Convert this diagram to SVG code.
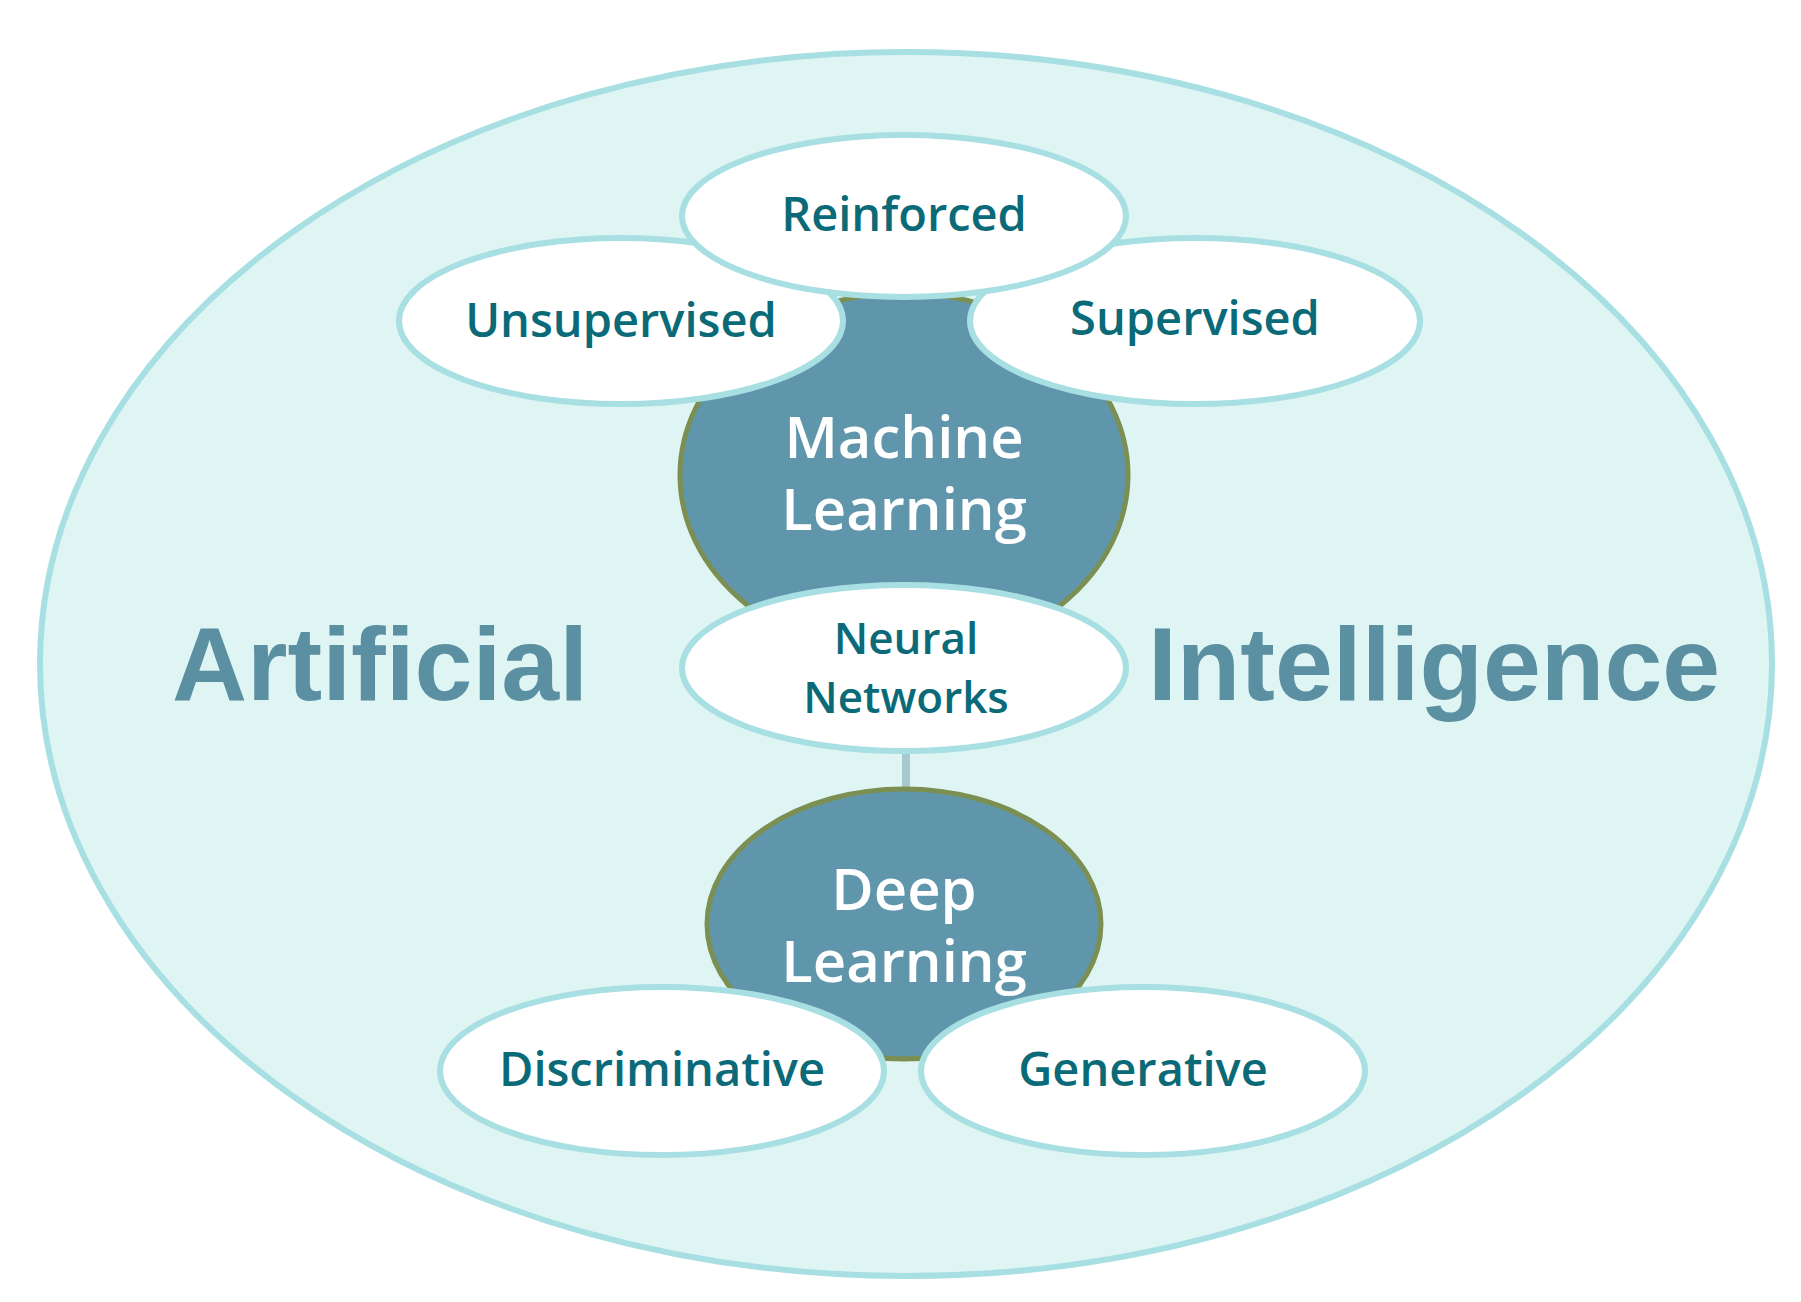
<svg xmlns="http://www.w3.org/2000/svg" width="1801" height="1302" viewBox="0 0 1801 1302">
<style>
.w{fill:#fff;stroke:#a8dfe3;stroke-width:6}
.d{fill:#6096ab;stroke:#7c8f52;stroke-width:5}
.t{font-family:"Open Sans","Liberation Sans",sans-serif;font-weight:600;fill:#0a6a78;text-anchor:middle;font-size:47px}
.n{font-size:44px}
.wt{font-family:"Open Sans","Liberation Sans",sans-serif;font-weight:600;fill:#fff;text-anchor:middle;font-size:58px}
.big{font-family:"Liberation Sans",Arial,sans-serif;fill:#5b8fa2;font-weight:bold;font-size:104px;text-anchor:middle}
</style>
<rect width="1801" height="1302" fill="#fff"/>
<ellipse cx="906" cy="664" rx="866" ry="612" fill="#dff5f3" stroke="#a8dfe3" stroke-width="6"/>
<text class="big" x="380" y="700">Artificial</text>
<text class="big" x="1434" y="700">Intelligence</text>
<g id="connectors"><line x1="906" y1="750" x2="906" y2="800" stroke="#a8c8d0" stroke-width="8"/></g>
<g id="ml"><ellipse class="d" cx="904" cy="475" rx="224" ry="182"/><text class="wt" x="904" y="458">Machine</text><text class="wt" x="904" y="530">Learning</text></g>
<g id="dl"><ellipse class="d" cx="904" cy="924" rx="197" ry="135"/><text class="wt" x="904" y="910">Deep</text><text class="wt" x="904" y="982">Learning</text></g>
<g id="unsup"><ellipse class="w" cx="621" cy="321" rx="222" ry="83"/><text class="t" x="621" y="337">Unsupervised</text></g>
<g id="sup"><ellipse class="w" cx="1195" cy="321" rx="225" ry="83"/><text class="t" x="1195" y="335">Supervised</text></g>
<g id="reinf"><ellipse class="w" cx="904" cy="216" rx="222" ry="81"/><text class="t" x="904" y="231">Reinforced</text></g>
<g id="nn"><ellipse class="w" cx="904" cy="668" rx="222" ry="83"/><text class="t n" x="906" y="654">Neural</text><text class="t n" x="906" y="713">Networks</text></g>
<g id="disc"><ellipse class="w" cx="662" cy="1071" rx="222" ry="84"/><text class="t" x="662" y="1086">Discriminative</text></g>
<g id="gen"><ellipse class="w" cx="1143" cy="1071" rx="222" ry="84"/><text class="t" x="1143" y="1086">Generative</text></g>
</svg>
